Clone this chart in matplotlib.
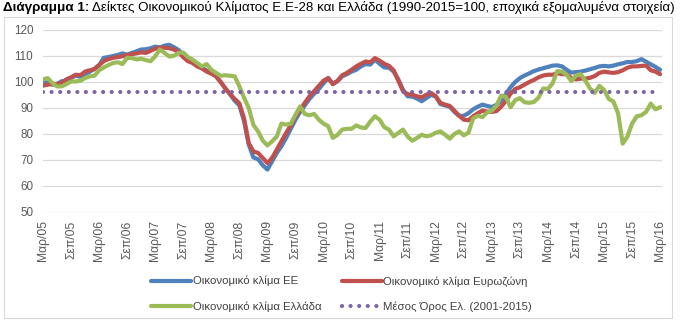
import numpy as np
import matplotlib
matplotlib.use("Agg")
import matplotlib.pyplot as plt
from matplotlib.patches import Rectangle

# monthly values, Mar 2005 .. Mar 2016
eu = [100, 99.8, 99, 99.2, 100.3, 100.5, 101.5, 102.5, 102, 102.8,
      104, 105, 106.5, 109.3, 109.6, 110, 110.4, 111, 110.5, 111.2,
      111.8, 112.5, 112.6, 113, 113.6, 113.3, 114, 114.3, 113.4, 112.3,
      110.5, 108.7, 107.8, 106.3, 105.5, 104.4, 103.5, 102.2, 100, 97.5,
      95.3, 92.8, 91, 85, 76, 71, 70.3, 68, 66.3, 69.5,
      72.7, 75.3, 78.5, 82, 85.5, 88.5, 91, 93.5, 95.5, 97.3,
      99.5, 101.5, 99.2, 100.3, 102.2, 103, 104, 104.7, 106, 106.9,
      106.7, 108.6, 107, 105.6, 105.5, 104, 101, 97, 94.5, 94.4,
      93.6, 92.6, 93.8, 95, 94.5, 91.5, 91, 90.5, 88.5, 87,
      87, 88, 89.5, 90.5, 91.3, 90.8, 90.4, 91.2, 92.8, 95.3,
      98, 100, 101.5, 102.5, 103.3, 104.2, 104.8, 105.3, 105.8, 106.3,
      106.4, 106, 104.7, 103.6, 103.8, 104, 104.4, 104.9, 105.4, 106,
      106.2, 106, 106.3, 106.8, 107.2, 107.7, 107.7, 108, 108.8, 107.8,
      106.8, 105.8, 104.7]
ez = [98.6, 99, 99.2, 99.3, 99.5, 101, 101.8, 102.8, 102.6, 104,
      104.5, 105, 106.5, 108, 108.8, 109.3, 109.6, 109.9, 110.4, 110.7,
      111, 111.4, 111.2, 112, 112.8, 113.2, 113.2, 113, 112.5, 111.5,
      109.5, 108, 107.3, 106, 105.2, 104, 103.2, 102.2, 100, 97.5,
      95.5, 93.5, 91.8, 86, 76.5, 73.3, 72.7, 70.8, 68.8, 70.8,
      74, 77.2, 80.4, 83.4, 86.8, 89.4, 92, 94.5, 96.5, 98.5,
      100.5, 101.5, 99.2, 100.5, 102.6, 103.5, 104.7, 106, 107, 107.9,
      107.6, 109.2, 108.2, 107, 106.2, 104.5, 100.5, 96.5, 95.3, 95.1,
      94.5, 94.1, 95.1, 95.8, 94.5, 92, 91.3, 90.8, 89, 87,
      85.5, 85.3, 86.8, 88, 89, 88.6, 88.5, 88.8, 90.5, 92.7,
      95.5, 97.3, 98, 99, 100, 100.8, 101.8, 102.5, 102.8, 102.8,
      103.4, 103, 103, 101.5, 101, 101.3, 101.3, 101.6, 102.3, 103.5,
      104, 103.7, 103.5, 103.8, 104.5, 105.5, 106, 106, 106.2, 106.3,
      104.5, 104, 103]
gr = [101, 101.5, 99.6, 98.3, 98.3, 99.2, 100.2, 100.2, 100.5, 101.5,
      102.2, 102.4, 104.5, 105.6, 106.5, 107.3, 107.6, 106.9, 109.3, 109.2,
      108.7, 109, 108.4, 108, 109.9, 112.5, 111.2, 109.8, 110.1, 111.2,
      111.3, 109.6, 108.6, 107.3, 106, 106.9, 104.7, 103.5, 102.4, 102.6,
      102.4, 102.2, 98.3, 94, 90, 83.5, 81, 77.5, 75.6, 77.2,
      79, 84, 83.6, 84, 87.4, 90.6, 87.7, 87.2, 87.7, 85.5,
      84, 83, 78.5, 79.7, 81.7, 82, 82, 83.3, 82.5, 82.3,
      84.8, 86.8, 85.5, 82.6, 81.7, 79.1, 80.4, 81.7, 79, 77.4,
      78.5, 79.7, 79.1, 79.5, 80.5, 81, 79.7, 78.2, 80, 81,
      79.5, 80.5, 86, 87, 86.5, 88.3, 89, 91, 94.8, 94.3,
      90.3, 93, 93.8, 92.2, 92, 92.3, 94, 97.5, 97.3, 99.5,
      104.2, 104, 102.8, 100.3, 102.5, 103, 100.5, 97.5, 95.8, 98.5,
      97, 93.5, 92.5, 88, 76.3, 79, 84, 86.8, 87.2, 88.5,
      91.7, 89.5, 90.3]
gr_mean = 96.2

tick_labels = ["Μαρ/05", "Σεπ/05", "Μαρ/06", "Σεπ/06", "Μαρ/07", "Σεπ/07",
               "Μαρ/08", "Σεπ/08", "Μαρ/09", "Σεπ/09", "Μαρ/10", "Σεπ/10",
               "Μαρ/11", "Σεπ/11", "Μαρ/12", "Σεπ/12", "Μαρ/13", "Σεπ/13",
               "Μαρ/14", "Σεπ/14", "Μαρ/15", "Σεπ/15", "Μαρ/16"]
names = ["Οικονομικό κλίμα ΕΕ", "Οικονομικό κλίμα Ευρωζώνη",
         "Οικονομικό κλίμα Ελλάδα", "Μέσος Όρος Ελ. (2001-2015)"]

plt.rcParams['font.family'] = ['Liberation Sans', 'DejaVu Sans']

W, H = 681, 326
fig = plt.figure(figsize=(W / 100, H / 100), dpi=100)
ax = fig.add_axes([43 / W, 1 - 212 / H, (662 - 43) / W, (212 - 30) / H])

x = np.arange(len(eu))
lw = 3.0
kw = dict(lw=lw, solid_joinstyle='round', solid_capstyle='round')
l1, = ax.plot(x, eu, color='#4F81BD', **kw)
l2, = ax.plot(x, ez, color='#C0504D', **kw)
l3, = ax.plot(x, gr, color='#9BBB59', **kw)
l4, = ax.plot(x, np.full(len(x), gr_mean), color='#8064A2', lw=lw,
              linestyle=(0, (0.01, 2.05)), dash_capstyle='round')

ax.set_xlim(0, 132.4)
ax.set_ylim(50, 120)
ax.set_yticks(range(50, 121, 10))
ax.set_xticks(range(0, len(eu), 6))
ax.set_xticklabels(tick_labels, rotation=90)
ax.grid(axis='y', color='#D9D9D9', lw=0.9)
ax.set_axisbelow(True)
for s in ax.spines.values():
    s.set_visible(False)
ax.tick_params(axis='both', length=0, labelcolor='#595959')
ax.tick_params(axis='y', pad=7, labelsize=8.4)
ax.tick_params(axis='x', pad=6, labelsize=8.7)

fig.legend([l1, l3, l2, l4], [names[0], names[2], names[1], names[3]],
           ncol=2, loc='upper left', bbox_to_anchor=(151 / W, 1 - 276 / H),
           frameon=False, fontsize=8.2, handlelength=3.5, handletextpad=0.15,
           columnspacing=1.8, labelspacing=1.3, labelcolor='#404040',
           borderaxespad=0, borderpad=0)

fig.patches.append(Rectangle((4 / W, 1 - 318 / H), (672 - 4) / W, (318 - 17) / H,
                             transform=fig.transFigure, fill=False,
                             ec='#D9D9D9', lw=0.8))

t1 = fig.text(3 / W, 1 - 8 / H, "Διάγραμμα 1:", fontsize=9.7, weight='bold',
              va='center', ha='left', color='black')
fig.canvas.draw()
bb = t1.get_window_extent()
fig.text((bb.x1 + 3) / W, 1 - 8 / H,
         "Δείκτες Οικονομικού Κλίματος Ε.Ε-28 και Ελλάδα (1990-2015=100, "
         "εποχικά εξομαλυμένα στοιχεία)", fontsize=9.6, va='center',
         ha='left', color='black')

fig.savefig("out.png", dpi=100)
